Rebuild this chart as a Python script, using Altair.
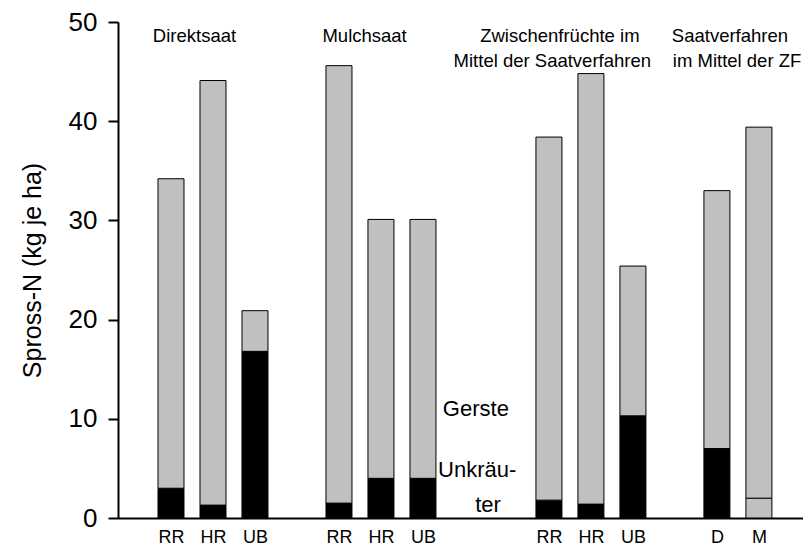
import altair as alt
import pandas as pd

# slot positions on the x scale (empty slots separate the groups)
positions = [0, 1, 2, 4, 5, 6, 9, 10, 11, 13, 14]
tick_labels = ["RR", "HR", "UB", "RR", "HR", "UB", "RR", "HR", "UB", "D", "M"]
# totals (Unkräuter + Gerste) and Unkräuter part, kg N/ha
totals = [34.2, 44.1, 20.9, 45.6, 30.1, 30.1, 38.4, 44.8, 25.4, 33.0, 39.4]
unkraut = [3.0, 1.3, 16.8, 1.5, 4.0, 4.0, 1.8, 1.4, 10.3, 7.0, 2.0]
# fill of the Unkräuter part (the last bar is drawn grey in the original)
unkraut_fill = ["black"] * 10 + ["#c0c0c0"]
gerste_fill = "#c0c0c0"

rows = []
for p, t, u, f in zip(positions, totals, unkraut, unkraut_fill):
    rows.append({"pos": p, "y0": 0, "y1": u, "fill": f, "seg": "Unkräuter"})
    rows.append({"pos": p, "y0": u, "y1": t, "fill": gerste_fill, "seg": "Gerste"})
bars_df = pd.DataFrame(rows)

# annotation texts (data coordinates)
ann_text = ["Direktsaat", "Mulchsaat", "Zwischenfrüchte im", "Mittel der Saatverfahren",
            "Saatverfahren", "im Mittel der ZF"]
ann_x = [0.56, 4.61, 9.26, 9.08, 13.31, 13.48]
ann_y = [48.6, 48.6, 48.6, 46.1, 48.6, 46.1]
ann_df = pd.DataFrame({"text": ann_text, "x": ann_x, "y": ann_y})

leg_text = ["Gerste", "Unkräu-", "ter"]
leg_x = [7.26, 7.29, 7.55]
leg_y = [11.0, 4.8, 1.3]
leg_df = pd.DataFrame({"text": leg_text, "x": leg_x, "y": leg_y})

label_array = "[" + ",".join(
    "'" + (tick_labels[positions.index(i)] if i in positions else "") + "'" for i in range(15)
) + "]"

xscale = alt.Scale(domain=[-1.262, 15.05], nice=False, zero=False, padding=0)
yscale = alt.Scale(domain=[0, 50], nice=False, padding=0)

font = "Liberation Sans"

bars = alt.Chart(bars_df).mark_bar(size=26, stroke="black", strokeWidth=1).encode(
    x=alt.X("pos:Q", scale=xscale,
            axis=alt.Axis(values=positions, labelExpr=label_array + "[datum.value]",
                          ticks=False, grid=False, title=None, labelFontSize=18,
                          labelPadding=10, labelFont=font, labelColor="black",
                          domainColor="black", domainWidth=2)),
    y=alt.Y("y0:Q", scale=yscale,
            axis=alt.Axis(values=[0, 10, 20, 30, 40, 50], grid=False, tickSize=10,
                          tickWidth=2, tickColor="black", domainColor="black",
                          domainWidth=2, labelFontSize=26, labelPadding=11,
                          labelFont=font, labelColor="black",
                          title="Spross-N (kg je ha)", titleFont=font,
                          titleFontSize=25, titleFontWeight="normal",
                          titleColor="black", titlePadding=23)),
    y2="y1:Q",
    fill=alt.Fill("fill:N", scale=None),
)

ann = alt.Chart(ann_df).mark_text(fontSize=18.5, font=font, color="black",
                                  align="center", baseline="middle").encode(
    x=alt.X("x:Q", scale=xscale), y=alt.Y("y:Q", scale=yscale), text="text:N")

leg = alt.Chart(leg_df).mark_text(fontSize=22, font=font, color="black",
                                  align="center", baseline="middle").encode(
    x=alt.X("x:Q", scale=xscale), y=alt.Y("y:Q", scale=yscale), text="text:N")

chart = alt.layer(bars, ann, leg).properties(
    width=685, height=496,
    autosize=alt.AutoSizeParams(type="none"),
    padding={"left": 110, "top": 14, "right": 0, "bottom": 27},
).configure_view(stroke=None)

chart.save("out.html", embed_options={"renderer": "svg", "actions": False})
